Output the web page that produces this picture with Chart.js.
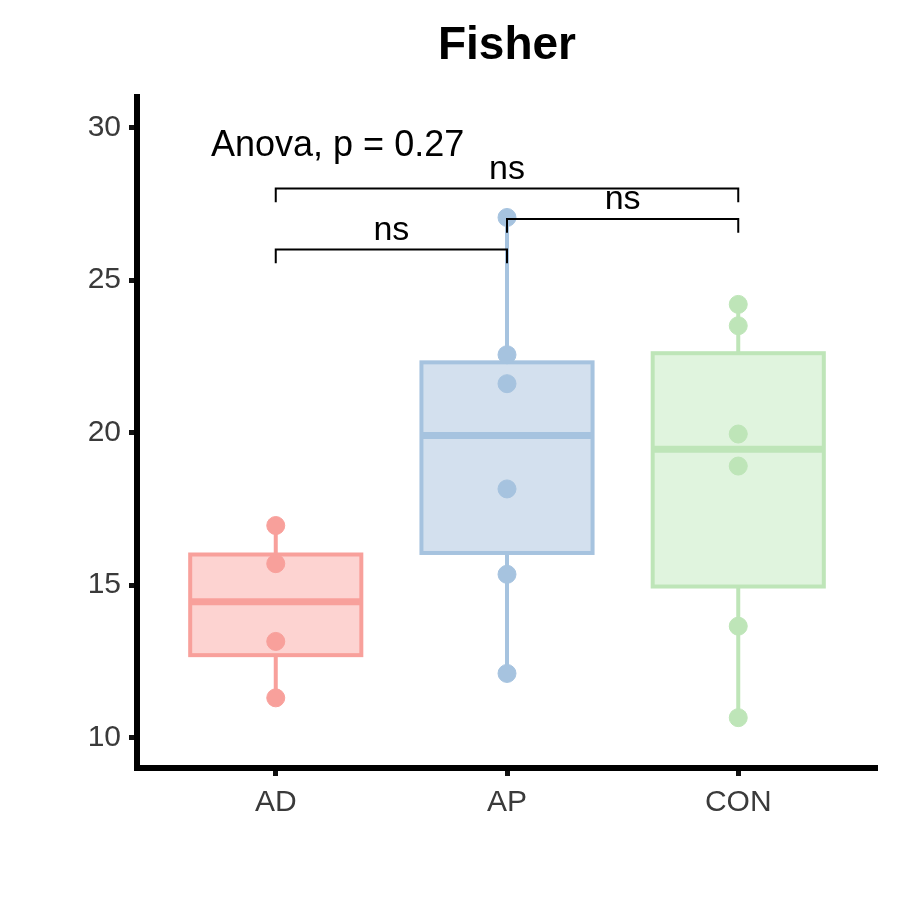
<!DOCTYPE html>
<html><head><meta charset="utf-8">
<script src="https://cdn.jsdelivr.net/npm/chart.js@4"></script>
<style>body{margin:0;background:#fff}</style></head>
<body><canvas id="c" width="900" height="900"></canvas>
<script>
const categories = ["AD","AP","CON"];
const points = [
  [16.95,15.7,13.15,11.3],
  [27.05,22.55,21.6,18.15,15.35,12.1],
  [24.2,23.5,19.95,18.9,13.65,10.65]
];
const q1 = [12.7,16.05,14.95];
const medians = [14.45,19.9,19.45];
const q3 = [16.0,22.3,22.6];
const whiskLo = [11.3,12.1,10.65];
const whiskHi = [16.95,27.05,24.2];
const yTicks = [10,15,20,25,30];
const comparisons = [[1,2,26,"ns"],[2,3,27,"ns"],[1,3,28,"ns"]];
const anovaText = "Anova, p = 0.27";
const titleText = "Fisher";
const fills = ["#FDD3D1","#D3E0EE","#E0F4DE"];
const strokes = ["#F8A09B","#A6C3DF","#BEE5B8"];

const boxPlugin = {
  id:"box",
  beforeDatasetsDraw(chart){
    const {ctx, scales:{x,y}} = chart;
    ctx.save();
    categories.forEach((c,i)=>{
      const cx = x.getPixelForValue(i+1);
      const hw = x.getPixelForValue(i+1+0.37)-cx;
      ctx.strokeStyle = strokes[i]; ctx.lineWidth = 4;
      ctx.beginPath();
      ctx.moveTo(cx,y.getPixelForValue(whiskHi[i])); ctx.lineTo(cx,y.getPixelForValue(q3[i]));
      ctx.moveTo(cx,y.getPixelForValue(q1[i])); ctx.lineTo(cx,y.getPixelForValue(whiskLo[i]));
      ctx.stroke();
      const t = y.getPixelForValue(q3[i]), b = y.getPixelForValue(q1[i]);
      ctx.fillStyle = fills[i];
      ctx.fillRect(cx-hw,t,2*hw,b-t);
      ctx.strokeRect(cx-hw,t,2*hw,b-t);
      ctx.lineWidth = 7;
      ctx.beginPath();
      const m = y.getPixelForValue(medians[i]);
      ctx.moveTo(cx-hw,m); ctx.lineTo(cx+hw,m); ctx.stroke();
    });
    ctx.restore();
  },
  afterDatasetsDraw(chart){
    const {ctx, chartArea, scales:{x,y}} = chart;
    ctx.save();
    ctx.strokeStyle="#000"; ctx.lineWidth=2; ctx.fillStyle="#000";
    ctx.font="34px 'Liberation Sans', Arial"; ctx.textAlign="center"; ctx.textBaseline="bottom";
    comparisons.forEach(([a,b,v,l])=>{
      const x1=x.getPixelForValue(a), x2=x.getPixelForValue(b), yy=y.getPixelForValue(v), yd=y.getPixelForValue(v-0.45);
      ctx.beginPath(); ctx.moveTo(x1,yd); ctx.lineTo(x1,yy); ctx.lineTo(x2,yy); ctx.lineTo(x2,yd); ctx.stroke();
      ctx.fillText(l,(x1+x2)/2,yy-2);
    });
    ctx.font="36px 'Liberation Sans', Arial"; ctx.textAlign="left"; ctx.textBaseline="middle";
    ctx.fillText(anovaText, x.getPixelForValue(0.72), y.getPixelForValue(29.4));
    ctx.font="bold 46px 'Liberation Sans', Arial"; ctx.textAlign="center";
    ctx.fillText(titleText,(chartArea.left+chartArea.right)/2,46);
    ctx.restore();
  }
};

const datasets = points.map((p,i)=>({
  data: p.map(v=>({x:i+1,y:v})),
  backgroundColor: strokes[i], borderColor: strokes[i], pointRadius: 9, pointHoverRadius: 9
}));

new Chart(document.getElementById("c"),{
  type:"scatter",
  data:{datasets},
  plugins:[boxPlugin],
  options:{
    responsive:false, animation:false, devicePixelRatio:1,
    layout:{padding:{top:97,right:23,bottom:0,left:0}},
    plugins:{legend:{display:false},tooltip:{enabled:false}},
    scales:{
      x:{type:"linear",min:0.4,max:3.6,
        afterBuildTicks(s){s.ticks=categories.map((c,i)=>({value:i+1}));},
        afterFit(s){s.height=132;},
        ticks:{callback:(v)=>categories[v-1]??"",color:"#3A3A3A",font:{size:30,family:"'Liberation Sans', Arial"},padding:9,autoSkip:false,maxRotation:0},
        grid:{drawOnChartArea:false,tickLength:8,tickWidth:5,tickColor:"#111"},
        border:{width:6,color:"#000"}},
      y:{min:9,max:31,
        afterBuildTicks(s){s.ticks=yTicks.map(v=>({value:v}));},
        afterFit(s){s.width=137;},
        ticks:{color:"#3A3A3A",font:{size:30,family:"'Liberation Sans', Arial"},padding:8},
        grid:{drawOnChartArea:false,tickLength:8,tickWidth:5,tickColor:"#111"},
        border:{width:6,color:"#000"}}
    }
  }
});
</script></body></html>
